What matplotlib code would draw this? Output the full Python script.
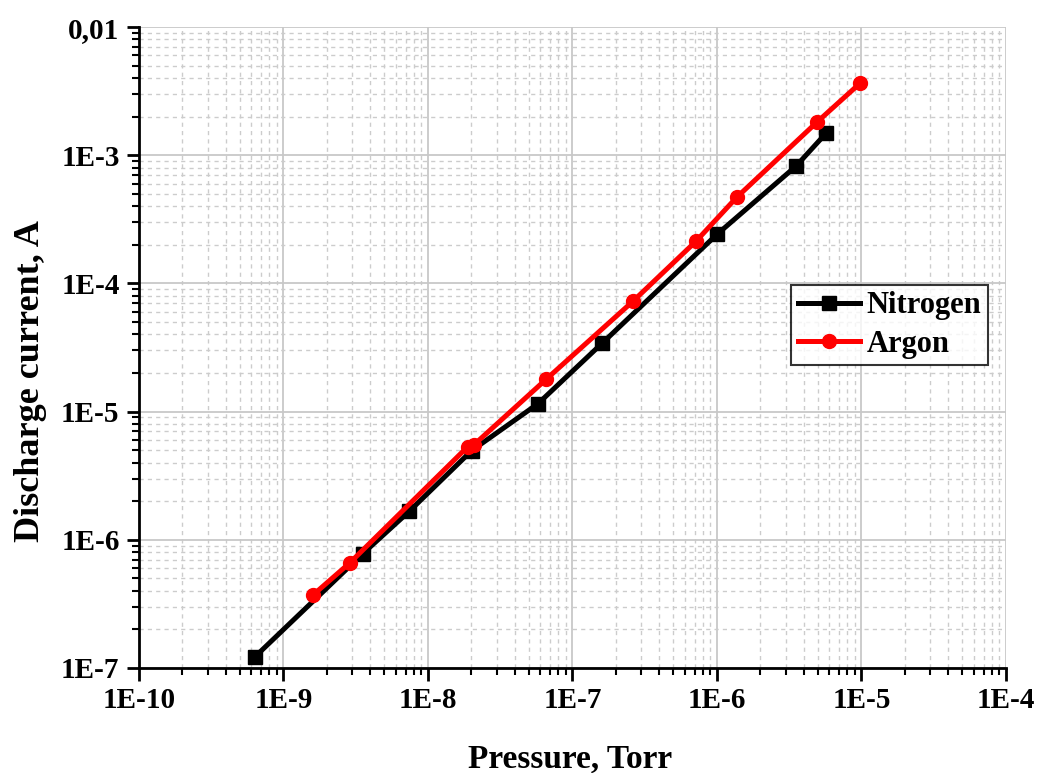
import matplotlib
matplotlib.use("Agg")
import matplotlib.pyplot as plt
from matplotlib.ticker import LogLocator, FixedLocator, FixedFormatter, NullFormatter

plt.rcParams['font.family'] = ['Liberation Serif', 'DejaVu Serif']
plt.rcParams['font.weight'] = 'bold'

nitrogen_p = [6.35e-10, 3.55e-9, 7.4e-9, 2.01e-8, 5.77e-8, 1.6e-7, 1.0e-6, 3.52e-6, 5.68e-6]
nitrogen_i = [1.22e-7, 7.8e-7, 1.66e-6, 4.96e-6, 1.15e-5, 3.4e-5, 2.41e-4, 8.2e-4, 1.48e-3]

argon_p = [1.6e-9, 2.88e-9, 1.89e-8, 2.08e-8, 6.56e-8, 2.62e-7, 7.16e-7, 1.37e-6, 4.92e-6, 9.8e-6]
argon_i = [3.7e-7, 6.6e-7, 5.33e-6, 5.5e-6, 1.78e-5, 7.24e-5, 2.13e-4, 4.69e-4, 1.81e-3, 3.65e-3]

x_ticks = [1e-10, 1e-9, 1e-8, 1e-7, 1e-6, 1e-5, 1e-4]
x_labels = ['1E-10', '1E-9', '1E-8', '1E-7', '1E-6', '1E-5', '1E-4']
y_ticks = [1e-7, 1e-6, 1e-5, 1e-4, 1e-3, 1e-2]
y_labels = ['1E-7', '1E-6', '1E-5', '1E-4', '1E-3', '0,01']

fig = plt.figure(figsize=(10.37, 7.73), dpi=100)
ax = fig.add_axes([0.134, 0.136, 0.836, 0.829])

ax.plot(nitrogen_p, nitrogen_i, color='black', lw=3.6, marker='s', ms=9.5, label='Nitrogen', zorder=3)
ax.plot(argon_p, argon_i, color='#ff0000', lw=3.6, marker='o', ms=10, label='Argon', zorder=4)

ax.set_xscale('log')
ax.set_yscale('log')
ax.set_xlim(1e-10, 1e-4)
ax.set_ylim(1e-7, 1e-2)

ax.xaxis.set_major_locator(FixedLocator(x_ticks))
ax.xaxis.set_major_formatter(FixedFormatter(x_labels))
ax.yaxis.set_major_locator(FixedLocator(y_ticks))
ax.yaxis.set_major_formatter(FixedFormatter(y_labels))
ax.xaxis.set_minor_locator(LogLocator(base=10, subs=range(2, 10), numticks=20))
ax.yaxis.set_minor_locator(LogLocator(base=10, subs=range(2, 10), numticks=20))
ax.xaxis.set_minor_formatter(NullFormatter())
ax.yaxis.set_minor_formatter(NullFormatter())

ax.grid(which='major', color='#c8c8c8', lw=1.3, ls='-')
ax.grid(which='minor', color='#cccccc', lw=1.0, ls=(0, (3, 3)))
ax.set_axisbelow(True)

for s in ['top', 'right']:
    ax.spines[s].set_visible(False)
for s in ['left', 'bottom']:
    ax.spines[s].set_linewidth(2)

ax.tick_params(which='major', direction='out', length=9, width=2, labelsize=21, pad=5)
ax.tick_params(which='minor', direction='out', length=5, width=1.5)
for lab in ax.get_xticklabels() + ax.get_yticklabels():
    lab.set_fontweight('bold')

fig.text(0.5497, 0.0065, 'Pressure, Torr', fontsize=24, fontweight='bold',
         ha='center', va='baseline')
fig.text(0.029, 0.5065, 'Discharge current, A', fontsize=26, fontweight='bold',
         ha='center', va='center', rotation=90)

leg = ax.legend(loc='upper left', bbox_to_anchor=(0.752, 0.598), fontsize=22, frameon=True,
                fancybox=False, edgecolor='black', handlelength=2.05, borderpad=0.22,
                labelspacing=0.3, handletextpad=0.2, borderaxespad=0)
leg.get_frame().set_linewidth(1.5)
for t in leg.get_texts():
    t.set_fontweight('bold')

fig.savefig('out.png', dpi=100)
